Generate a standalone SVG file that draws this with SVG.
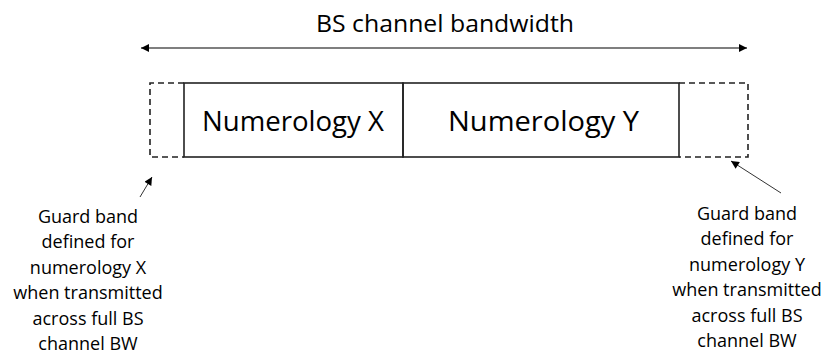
<svg xmlns="http://www.w3.org/2000/svg" width="825" height="356" viewBox="0 0 825 356">
<defs>
<style>
.t{font-family:"Open Sans","Noto Sans","Liberation Sans",sans-serif;fill:#000;}
.big{font-size:26.5px;}
.title{font-size:24px;}
.small{font-size:18px;text-anchor:middle;}
.solid{fill:none;stroke:#222;stroke-width:1.6;}
.dash{fill:none;stroke:#222;stroke-width:1.6;stroke-dasharray:6,4;}
.conn{fill:none;stroke:#000;stroke-width:1.2;}
.ptr{fill:none;stroke:#333;stroke-width:1;}
</style>
<marker id="ah" viewBox="0 0 10 10" refX="10" refY="5" markerWidth="10" markerHeight="8" markerUnits="userSpaceOnUse" orient="auto-start-reverse">
<path d="M0,0 L10,5 L0,10 z" fill="#000"/>
</marker>
</defs>
<g id="title">
<text class="t title" x="316" y="32" textLength="258" lengthAdjust="spacingAndGlyphs">BS channel bandwidth</text>
</g>
<g id="guard-x-box">
<path class="dash" d="M184,83 H150 V157 H184"/>
</g>
<g id="guard-y-box">
<path class="dash" d="M679,83 H748 V157 H679"/>
</g>
<g id="numerology-x">
<rect class="solid" x="184" y="83" width="219" height="74"/>
<text class="t big" x="202" y="131" textLength="182" lengthAdjust="spacingAndGlyphs">Numerology X</text>
</g>
<g id="numerology-y">
<rect class="solid" x="403" y="83" width="276" height="74"/>
<text class="t big" x="448" y="131" textLength="191" lengthAdjust="spacingAndGlyphs">Numerology Y</text>
</g>
<g id="label-x">
<text class="t small" x="88" y="223">Guard band</text>
<text class="t small" x="88" y="248.4">defined for</text>
<text class="t small" x="88" y="273.8">numerology X</text>
<text class="t small" x="88" y="299.2">when transmitted</text>
<text class="t small" x="88" y="324.6">across full BS</text>
<text class="t small" x="88" y="350">channel BW</text>
</g>
<g id="label-y">
<text class="t small" x="747" y="220">Guard band</text>
<text class="t small" x="747" y="245.4">defined for</text>
<text class="t small" x="747" y="270.8">numerology Y</text>
<text class="t small" x="747" y="296.2">when transmitted</text>
<text class="t small" x="747" y="321.6">across full BS</text>
<text class="t small" x="747" y="347">channel BW</text>
</g>
<g id="connectors">
<line class="conn" x1="141" y1="48" x2="747" y2="48" marker-start="url(#ah)" marker-end="url(#ah)"/>
<line class="ptr" x1="140" y1="197" x2="152" y2="177" marker-end="url(#ah)"/>
<line class="ptr" x1="781" y1="193" x2="731" y2="161" marker-end="url(#ah)"/>
</g>
</svg>
